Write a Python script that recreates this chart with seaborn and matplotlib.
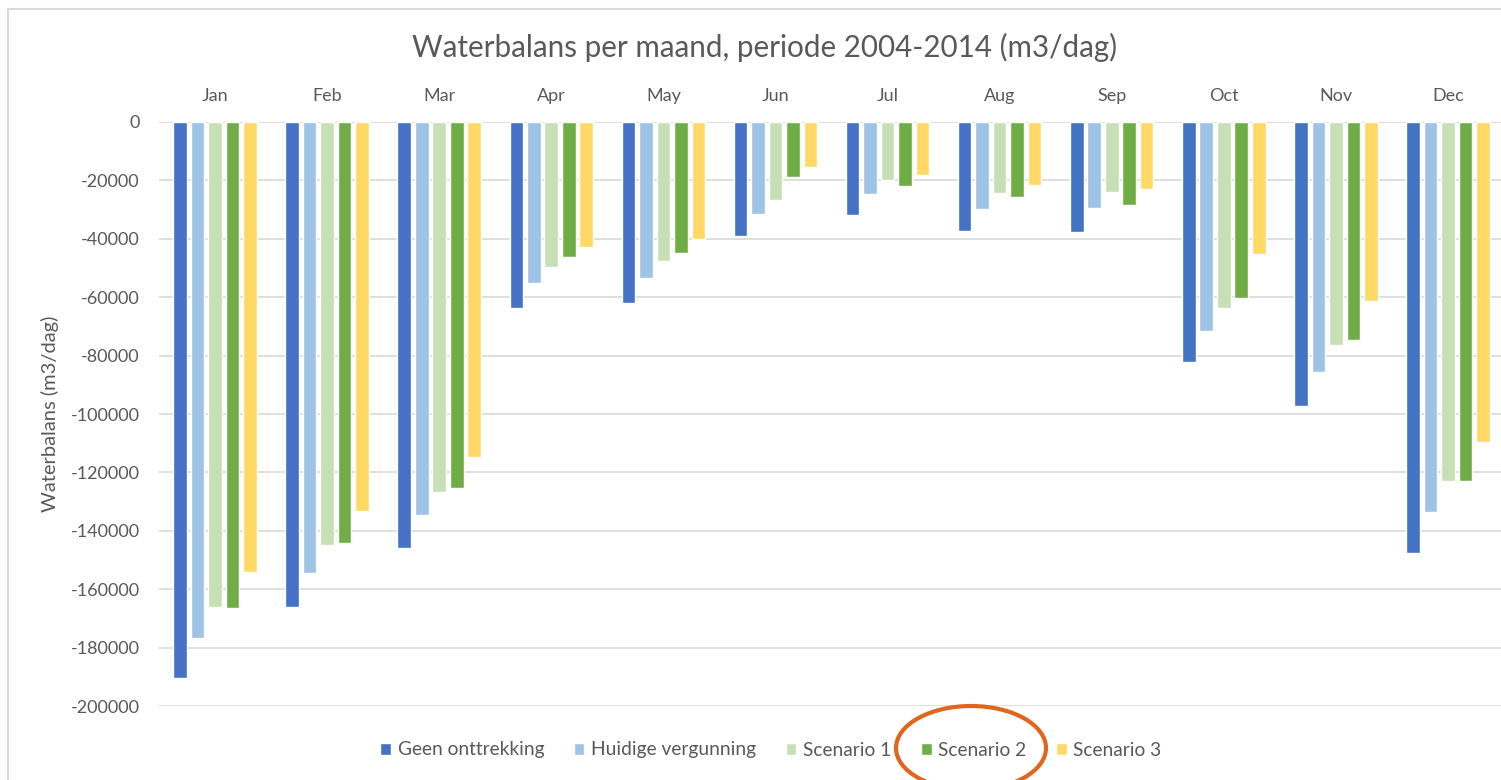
import matplotlib
matplotlib.use("Agg")
import matplotlib.pyplot as plt
from matplotlib.patches import Rectangle, Ellipse
import seaborn as sns
import pandas as pd

# Monthly water balance (m3/dag), period 2004-2014
months = ["Jan", "Feb", "Mar", "Apr", "May", "Jun", "Jul", "Aug", "Sep", "Oct", "Nov", "Dec"]
series = ["Geen onttrekking", "Huidige vergunning", "Scenario 1", "Scenario 2", "Scenario 3"]

geen_onttrekking = [-190300, -166200, -145800, -63600, -62100, -39000, -31800, -37300, -37800, -82100, -97300, -147500]
huidige_vergunning = [-176800, -154500, -134700, -55200, -53500, -31600, -24800, -29700, -29600, -71500, -85500, -133500]
scenario_1 = [-166000, -145000, -126600, -49800, -47600, -26800, -20000, -24200, -23900, -63600, -76400, -122900]
scenario_2 = [-166500, -144300, -125300, -46200, -44700, -18900, -21900, -25800, -28400, -60200, -74500, -123000]
scenario_3 = [-154000, -133200, -114600, -42800, -40100, -15500, -18300, -21600, -23100, -45200, -61300, -109700]

y_ticks = [0, -20000, -40000, -60000, -80000, -100000, -120000, -140000, -160000, -180000, -200000]

colors = ["#4472C4", "#9DC3E6", "#C5E0B4", "#70AD47", "#FFD966"]

values = [geen_onttrekking, huidige_vergunning, scenario_1, scenario_2, scenario_3]
df = pd.DataFrame(
    [(m, s, v) for s, vals in zip(series, values) for m, v in zip(months, vals)],
    columns=["maand", "reeks", "waarde"],
)

sns.set_theme(style="white")
plt.rcParams["font.family"] = ["Lato", "DejaVu Sans"]
text_color = "#595959"

W, H = 1501, 780
fig = plt.figure(figsize=(W / 100, H / 100), dpi=100)
ax = fig.add_axes([159 / W, 74 / H, 1345 / W, 584 / H])

sns.barplot(
    data=df, x="maand", y="waarde", hue="reeks", order=months, hue_order=series,
    palette=colors, width=0.78, gap=0.22, saturation=1, ax=ax, errorbar=None,
)

ax.set_ylim(-200000, 0)
ax.set_yticks(y_ticks)
ax.set_yticklabels([str(t) for t in y_ticks])
ax.yaxis.grid(True, color="#d9d9d9", linewidth=1.2)
ax.set_axisbelow(True)
for sp in ax.spines.values():
    sp.set_visible(False)

ax.xaxis.tick_top()
ax.set_xlabel("")
ax.tick_params(axis="x", length=0, pad=13, labelsize=13, labelcolor=text_color)
ax.tick_params(axis="y", length=0, pad=14, labelsize=13, labelcolor=text_color)
ax.set_ylabel("Waterbalans (m3/dag)", fontsize=14.5, color=text_color, labelpad=8)

fig.text(765 / W, 1 - 47 / H, "Waterbalans per maand, periode 2004-2014 (m3/dag)",
         ha="center", va="center", fontsize=21.3, color=text_color)

handles, labels = ax.get_legend_handles_labels()
ax.get_legend().remove()
fig.legend(handles, labels, loc="center", bbox_to_anchor=(771 / W, 1 - 750 / H),
           ncol=5, frameon=False, fontsize=13.8, labelcolor=text_color,
           handlelength=0.55, handleheight=0.6, handletextpad=0.35, columnspacing=1.55)

# chart frame
fig.patches.append(Rectangle((8 / W, -0.05), 1.1, 1 - 9 / H + 0.05, transform=fig.transFigure,
                             fill=False, edgecolor="#d9d9d9", linewidth=1.5))
# highlight around the Scenario 2 legend entry
fig.patches.append(Ellipse((971 / W, 1 - 748 / H), 150 / W, 84 / H, transform=fig.transFigure,
                           fill=False, edgecolor="#E0661C", linewidth=3))

fig.savefig("out.png", dpi=100, facecolor="white")
